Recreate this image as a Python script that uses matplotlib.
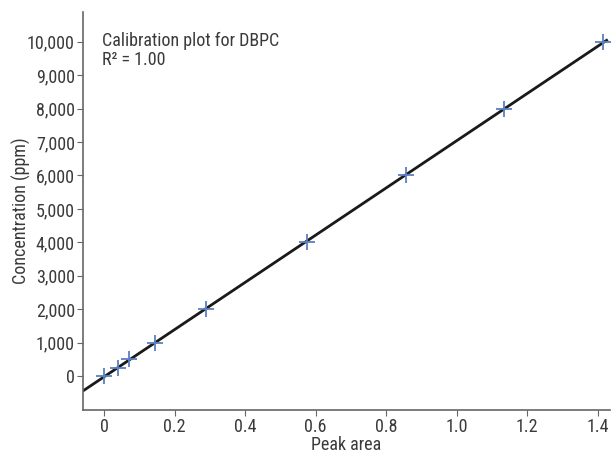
import numpy as np
import matplotlib.pyplot as plt
from matplotlib.ticker import FuncFormatter

plt.rcParams['font.family'] = ['Roboto Condensed', 'DejaVu Sans']

# Calibration data for DBPC
peak_area = [0.0, 0.04, 0.07, 0.145, 0.29, 0.575, 0.855, 1.135, 1.415]
concentration = [0, 250, 500, 1000, 2000, 4000, 6000, 8000, 10000]

# linear fit through the points
slope, intercept = np.polyfit(peak_area, concentration, 1)
x_fit = np.array([-0.06, 1.425])
y_fit = slope * x_fit + intercept

txt = '#3a3a3a'
fig = plt.figure(figsize=(6.11, 4.53), dpi=100)
ax = fig.add_axes([0.136, 0.095, 0.862, 0.879])

ax.plot(x_fit, y_fit, color='#1a1a1a', lw=2, zorder=2)
ax.plot(peak_area, concentration, '+', color='#5b7fbf', ms=12, mew=1.3, zorder=3)

ax.set_xlim(-0.0595, 1.434)
ax.set_ylim(-1018, 10900)
ax.set_xticks([0, 0.2, 0.4, 0.6, 0.8, 1.0, 1.2, 1.4])
ax.set_xticklabels(['0', '0.2', '0.4', '0.6', '0.8', '1.0', '1.2', '1.4'])
ax.set_yticks(range(0, 10001, 1000))
ax.yaxis.set_major_formatter(FuncFormatter(lambda v, p: f'{int(v):,}'))

for s in ['top', 'right']:
    ax.spines[s].set_visible(False)
for s in ['left', 'bottom']:
    ax.spines[s].set_color('#666666')
    ax.spines[s].set_linewidth(1.2)
ax.tick_params(direction='out', length=4, color='#666666', labelsize=13, labelcolor=txt, pad=2)

ax.set_xlabel('Peak area', fontsize=13, color=txt, labelpad=0)
ax.set_ylabel('Concentration (ppm)', fontsize=13, color=txt, labelpad=-3)

ax.text(0.035, 0.95, 'Calibration plot for DBPC\nR² = 1.00', transform=ax.transAxes,
        fontsize=13, color=txt, va='top', ha='left', linespacing=1.1)

plt.savefig('out.png', dpi=100)
